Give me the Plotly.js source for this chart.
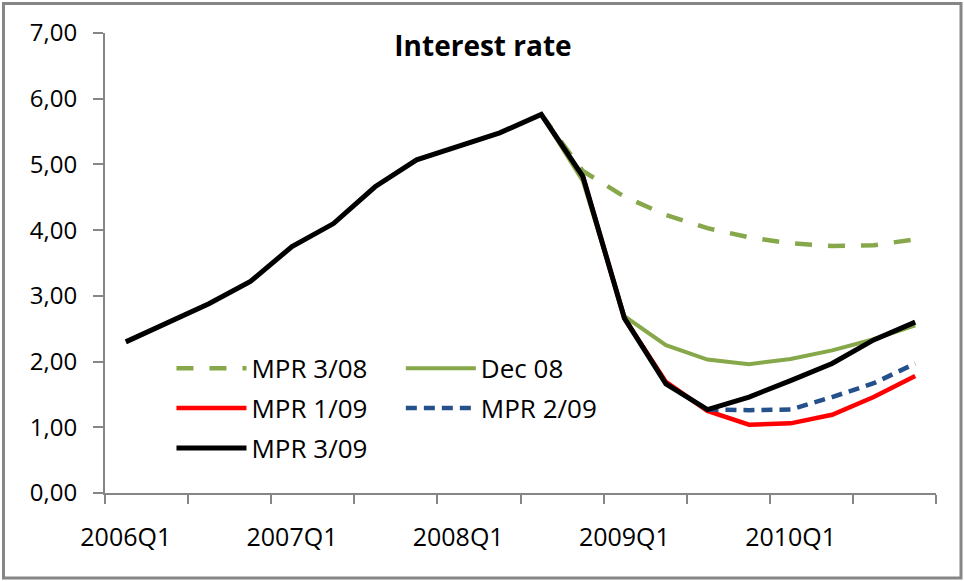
<!DOCTYPE html>
<html>
<head>
<meta charset="utf-8">
<script src="https://cdn.plot.ly/plotly-3.0.1.min.js"></script>
<style>
html,body{margin:0;padding:0;background:#fff;}
#chart{width:964px;height:581px;}
</style>
</head>
<body>
<div id="chart"></div>
<script>
// Quarters on the x axis
var categories = ["2006Q1","2006Q2","2006Q3","2006Q4","2007Q1","2007Q2","2007Q3","2007Q4",
                  "2008Q1","2008Q2","2008Q3","2008Q4","2009Q1","2009Q2","2009Q3","2009Q4",
                  "2010Q1","2010Q2","2010Q3","2010Q4"];
var tickLabels = ["2006Q1","2007Q1","2008Q1","2009Q1","2010Q1"];

// Interest rate paths (per cent)
var mpr308 = [null,null,null,null,null,null,null,null,null,null,
              5.76,4.90,4.51,4.23,4.03,3.89,3.80,3.76,3.77,3.86];
var dec08  = [null,null,null,null,null,null,null,null,null,null,
              5.76,4.75,2.69,2.25,2.03,1.96,2.04,2.17,2.34,2.55];
var mpr109 = [null,null,null,null,null,null,null,null,null,null,null,
              4.82,2.66,1.69,1.25,1.04,1.06,1.19,1.46,1.78];
var mpr209 = [null,null,null,null,null,null,null,null,null,null,null,null,null,null,
              1.27,1.26,1.27,1.46,1.67,1.97];
var mpr309 = [2.30,2.58,2.88,3.22,3.75,4.10,4.66,5.07,5.27,5.48,
              5.76,4.82,2.66,1.66,1.27,1.46,1.71,1.97,2.33,2.60];

var xIdx = categories.map(function(c,i){return i;});
var tickPos = tickLabels.map(function(t){return categories.indexOf(t);});

var green = '#86a84a', blue = '#24508c', red = '#ff0000', black = '#000000';
var FONT = 'Open Sans, Lato, sans-serif';

function tr(name, y, color, width, dash, legend){
  return {x: xIdx, y: y, name: name, type: 'scatter', mode: 'lines',
          line: {color: color, width: width, dash: dash},
          connectgaps: false, hoverinfo: 'skip', legend: legend, legendgroup: name};
}

var data = [
  tr('MPR 3/08', mpr308, green, 4.5, '17px,16px', 'legend'),
  tr('Dec 08',   dec08,  green, 4,   'solid',     'legend2'),
  tr('MPR 1/09', mpr109, red,   4.5, 'solid',     'legend'),
  tr('MPR 2/09', mpr209, blue,  4.5, '11px,7px',  'legend2'),
  tr('MPR 3/09', mpr309, black, 5,   'solid',     'legend')
];

var axisGray = '#868686';
var legFont = {family: FONT, size: 26, color: '#000'};
var layout = {
  width: 964, height: 581,
  margin: {l: 105, r: 28, t: 33, b: 88},
  paper_bgcolor: '#ffffff', plot_bgcolor: '#ffffff',
  separators: ', ',
  font: {family: FONT, color: '#000000'},
  title: {text: 'Interest rate', font: {family: FONT, size: 28, color: '#000', weight: 'bold'},
          x: 0.501, xref: 'container', xanchor: 'center', y: 0.921, yref: 'container', yanchor: 'middle'},
  showlegend: true,
  legend: {x: 0.08, y: 0.322, xanchor: 'left', yanchor: 'top', orientation: 'v',
           bgcolor: 'rgba(0,0,0,0)', font: legFont,
           itemwidth: 70, traceorder: 'grouped', tracegroupgap: 3},
  legend2: {x: 0.356, y: 0.322, xanchor: 'left', yanchor: 'top', orientation: 'v',
           bgcolor: 'rgba(0,0,0,0)', font: legFont,
           itemwidth: 70, traceorder: 'grouped', tracegroupgap: 3},
  xaxis: {
    range: [-0.5, categories.length - 0.5], fixedrange: true,
    showline: true, linecolor: axisGray, linewidth: 2,
    showgrid: false, zeroline: false,
    tickmode: 'array', tickvals: tickPos, ticktext: tickLabels,
    ticks: '', ticklabelstandoff: 21,
    tickfont: {family: FONT, size: 25, color: '#000'},
    minor: {tickmode: 'linear', tick0: -0.5, dtick: 2, ticks: 'outside', ticklen: 9,
            tickwidth: 2, tickcolor: axisGray, showgrid: false}
  },
  yaxis: {
    range: [0, 7], fixedrange: true, dtick: 1, tick0: 0, tickformat: '.2f',
    showline: true, linecolor: axisGray, linewidth: 2,
    showgrid: false, zeroline: false,
    ticks: 'outside', ticklen: 10, tickwidth: 2, tickcolor: axisGray,
    ticklabelstandoff: 11,
    tickfont: {family: FONT, size: 24, color: '#000'}
  },
  shapes: [{type: 'rect', xref: 'paper', yref: 'paper',
            x0: (3.5 - 105) / 831, x1: (961 - 105) / 831,
            y0: (493 - 578) / 460, y1: (493 - 3.5) / 460,
            line: {color: axisGray, width: 3}, fillcolor: 'rgba(0,0,0,0)', layer: 'below'}]
};

Plotly.newPlot('chart', data, layout, {staticPlot: true, displayModeBar: false});
</script>
</body>
</html>
